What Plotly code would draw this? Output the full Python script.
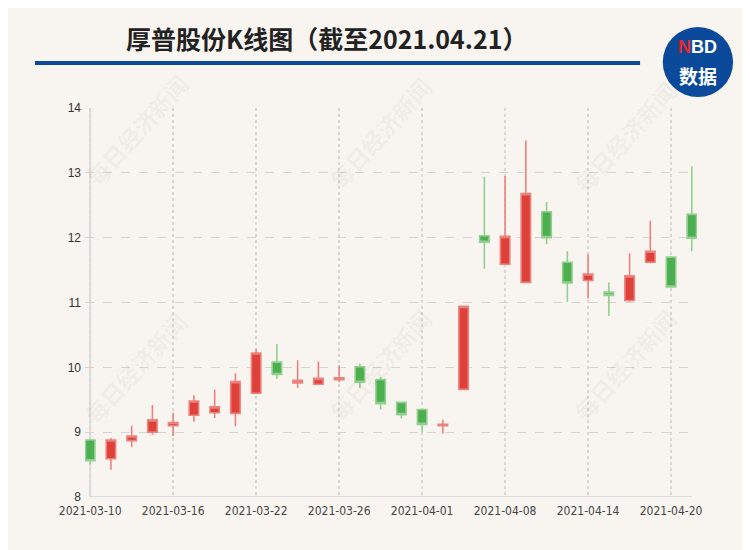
import plotly.graph_objects as go

dates = ["2021-03-10", "2021-03-11", "2021-03-12", "2021-03-15", "2021-03-16",
         "2021-03-17", "2021-03-18", "2021-03-19", "2021-03-22", "2021-03-23",
         "2021-03-24", "2021-03-25", "2021-03-26", "2021-03-29", "2021-03-30",
         "2021-03-31", "2021-04-01", "2021-04-02", "2021-04-06", "2021-04-07",
         "2021-04-08", "2021-04-09", "2021-04-12", "2021-04-13", "2021-04-14",
         "2021-04-15", "2021-04-16", "2021-04-19", "2021-04-20", "2021-04-21"]
open_ = [8.88, 8.59, 8.87, 9.00, 9.10, 9.26, 9.30, 9.29, 9.60, 10.08,
         9.76, 9.74, 9.81, 10.01, 9.81, 9.46, 9.35, 9.10, 9.66, 12.03,
         11.59, 11.31, 12.40, 11.62, 11.34, 11.16, 11.03, 11.62, 11.70, 12.36]
close = [8.56, 8.88, 8.94, 9.19, 9.15, 9.48, 9.39, 9.78, 10.22, 9.89,
         9.80, 9.83, 9.84, 9.77, 9.44, 9.27, 9.12, 9.12, 10.94, 11.93,
         12.02, 12.68, 12.00, 11.30, 11.44, 11.11, 11.41, 11.79, 11.24, 11.99]
high = [8.90, 8.91, 9.10, 9.42, 9.30, 9.57, 9.66, 9.91, 10.28, 10.36,
        10.11, 10.09, 10.03, 10.06, 9.85, 9.46, 9.35, 9.19, 10.95, 12.94,
        12.95, 13.50, 12.55, 11.79, 11.74, 11.31, 11.76, 12.26, 11.70, 13.10]
low = [8.50, 8.42, 8.77, 8.96, 8.94, 9.16, 9.22, 9.09, 9.60, 9.82,
       9.68, 9.74, 9.77, 9.68, 9.35, 9.21, 9.00, 8.98, 9.65, 11.52,
       11.59, 11.30, 11.90, 11.01, 11.06, 10.79, 11.01, 11.60, 11.24, 11.79]
y_ticks = [8, 9, 10, 11, 12, 13, 14]
tick_every = 4
title = "厚普股份K线图（截至2021.04.21）"
watermark = "每日经济新闻"

xs = list(range(len(dates)))
tickvals = xs[::tick_every]
ticktext = dates[::tick_every]

bg = "#f8f5f0"
fig = go.Figure()
fig.add_trace(go.Candlestick(
    x=xs, open=open_, high=high, low=low, close=close,
    increasing=dict(fillcolor="#e0403a", line=dict(color="#e9837d", width=1.6)),
    decreasing=dict(fillcolor="#4caf50", line=dict(color="#94cf91", width=1.6)),
    whiskerwidth=0, showlegend=False, hoverinfo="x+y",
))

# axis lines (drawn at the first/last category like the reference)
fig.add_shape(type="line", xref="x", yref="y", x0=xs[0], x1=xs[0], y0=y_ticks[0], y1=y_ticks[-1],
              line=dict(color="#dcdcdc", width=2), layer="below")
fig.add_shape(type="line", xref="x", yref="y", x0=xs[0], x1=xs[-1], y0=y_ticks[0], y1=y_ticks[0],
              line=dict(color="#dcdcdc", width=2), layer="below")

# title underline
fig.add_shape(type="line", xref="paper", yref="paper", x0=-0.0817, x1=0.907, y0=1.1157, y1=1.1157,
              line=dict(color="#0b4a9a", width=4))

# logo
fig.add_shape(type="circle", xref="paper", yref="paper",
              x0=0.944, x1=1.059, y0=1.028, y1=1.208,
              fillcolor="#0b4a9a", line=dict(color="#0b4a9a", width=0))
fig.add_annotation(xref="paper", yref="paper", x=1.0016, y=1.157, showarrow=False,
                   xanchor="center", yanchor="middle",
                   text="<b><span style='color:#e8262b'>N</span>BD</b>",
                   font=dict(family="Liberation Sans, Arial", size=18, color="white"))
fig.add_annotation(xref="paper", yref="paper", x=1.0016, y=1.083, showarrow=False,
                   xanchor="center", yanchor="middle",
                   text="<b>数据</b>",
                   font=dict(family="Noto Sans CJK SC", size=19, color="white"))

# title
fig.add_annotation(xref="paper", yref="paper", x=0.395, y=1.18, showarrow=False,
                   xanchor="center", yanchor="middle",
                   text="<b>" + title + "</b>",
                   font=dict(family="Noto Sans CJK SC", size=25, color="#222222"))

# watermarks
for (px, py) in [(0.085, 0.943), (0.482, 0.936), (0.882, 0.925),
                 (0.082, 0.332), (0.482, 0.339), (0.882, 0.339)]:
    fig.add_annotation(xref="paper", yref="paper", x=px, y=py, showarrow=False,
                       xanchor="center", yanchor="middle",
                       text="<b>" + watermark + "</b>", textangle=-48,
                       font=dict(family="Noto Sans CJK SC", size=23, color="rgba(0,0,0,0.055)"))

fig.update_layout(
    width=750, height=550,
    paper_bgcolor=bg, plot_bgcolor=bg,
    margin=dict(l=77, r=61, t=100, b=61),
    boxgap=0.35,
    xaxis=dict(range=[-0.25, len(dates) - 1 + 0.25], tickmode="array", tickvals=tickvals,
               ticktext=ticktext, showgrid=True, gridcolor="#d9d7d3", griddash="dot", gridwidth=2,
               zeroline=False, showline=False, ticks="", rangeslider=dict(visible=False),
               ticklabelstandoff=5,
               tickfont=dict(family="Liberation Sans Narrow, DejaVu Sans Condensed, Liberation Sans", size=12, color="#444444"),
               fixedrange=True),
    yaxis=dict(range=[y_ticks[0], y_ticks[-1]], tickmode="array", tickvals=y_ticks,
               showgrid=True, gridcolor="#d6d4d0", griddash="dash", gridwidth=1,
               zeroline=False, showline=False, ticks="", ticklabelstandoff=3,
               tickfont=dict(family="Liberation Sans, Arial", size=12, color="#333333")),
)

fig.write_html("out.html")
